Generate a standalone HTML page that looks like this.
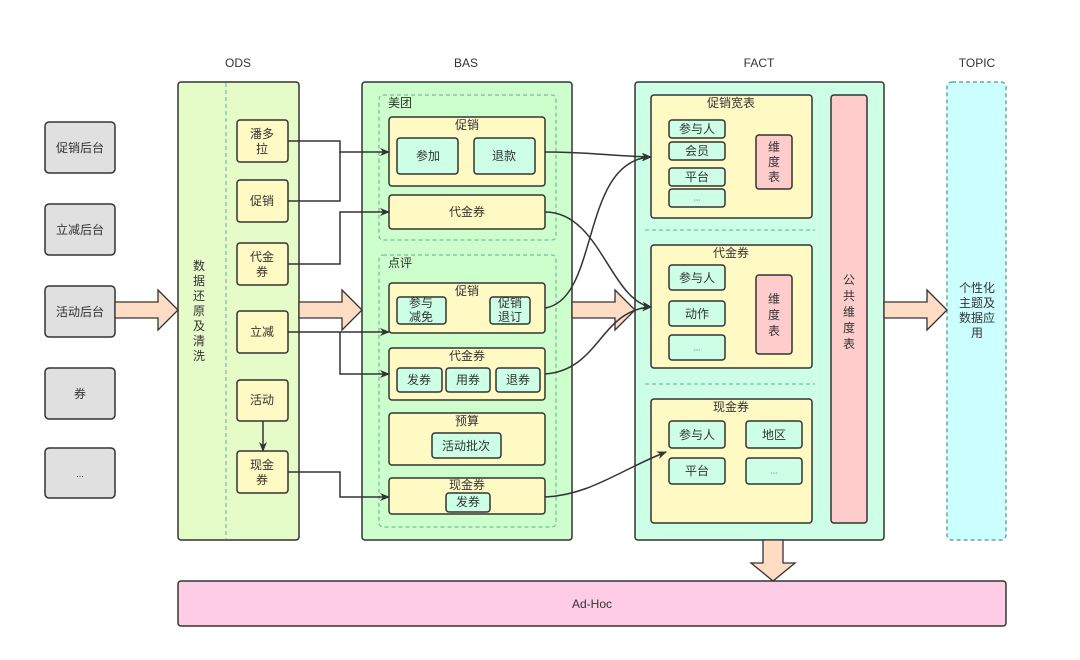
<!DOCTYPE html>
<html><head><meta charset="utf-8"><style>
html,body{margin:0;padding:0;background:#fff;}
svg text{font-family:"Liberation Sans","Noto Sans CJK SC",sans-serif;font-size:12px;fill:#333;text-anchor:middle;dominant-baseline:central;}
</style></head><body>
<svg width="1080" height="655" viewBox="0 0 1080 655" xmlns="http://www.w3.org/2000/svg">
<defs>
<marker id="ah" markerWidth="10" markerHeight="8" refX="9" refY="4" orient="auto" markerUnits="userSpaceOnUse"><path d="M0,0 L10,4 L0,8 L3,4 Z" fill="#333"/></marker>
</defs>
<g stroke="#333" stroke-width="1.5">
<rect x="45" y="122" width="70" height="51" rx="4" fill="#e0e0e0"/>
<rect x="45" y="204" width="70" height="51" rx="4" fill="#e0e0e0"/>
<rect x="45" y="286" width="70" height="51" rx="4" fill="#e0e0e0"/>
<rect x="45" y="368" width="70" height="51" rx="4" fill="#e0e0e0"/>
<rect x="45" y="448" width="70" height="50" rx="4" fill="#e0e0e0"/>
<rect x="178" y="82" width="121" height="458" rx="3" fill="#e6fcc8"/>
<rect x="362" y="82" width="210" height="458" rx="3" fill="#ccffcc"/>
<rect x="635" y="82" width="249" height="458" rx="3" fill="#ccffe6"/>
<rect x="947" y="82" width="59" height="458" rx="5" fill="#ccffff" stroke="#6a9" stroke-dasharray="4,3"/>
<rect x="178" y="581" width="828" height="45" rx="3" fill="#ffcce6"/>
</g>
<line x1="226" y1="83" x2="226" y2="539" stroke="#6a9" stroke-width="1" stroke-dasharray="4,3"/>
<g fill="#ffdcc4" stroke="#333" stroke-width="1.3">
<path d="M115,302 H158 V290 L178,310 L158,330 V318 H115 Z"/>
<path d="M299,302 H342 V290 L362,310 L342,330 V318 H299 Z"/>
<path d="M572,302 H615 V290 L635,310 L615,330 V318 H572 Z"/>
<path d="M884,302 H927 V290 L947,310 L927,330 V318 H884 Z"/>
<path d="M763,540 V563 H751 L773,581 L795,563 H783 V540 Z"/>
</g>
<g stroke="#333" stroke-width="1.5">
<rect x="237" y="120" width="51" height="42" rx="3" fill="#fff9c4"/>
<rect x="237" y="180" width="51" height="42" rx="3" fill="#fff9c4"/>
<rect x="237" y="243" width="51" height="42" rx="3" fill="#fff9c4"/>
<rect x="237" y="311" width="51" height="42" rx="3" fill="#fff9c4"/>
<rect x="237" y="380" width="51" height="41" rx="3" fill="#fff9c4"/>
<rect x="237" y="451" width="51" height="42" rx="3" fill="#fff9c4"/>
</g>
<g stroke="#6a9" stroke-width="1" stroke-dasharray="4,3" fill="none">
<rect x="379" y="95" width="177" height="145" rx="4"/>
<rect x="379" y="255" width="177" height="272" rx="4"/>
</g>
<g stroke="#333" stroke-width="1.5">
<rect x="389" y="117" width="156" height="69" rx="3" fill="#fff9c4"/>
<rect x="397" y="138" width="61" height="36" rx="3" fill="#ccffe6"/>
<rect x="474" y="138" width="61" height="36" rx="3" fill="#ccffe6"/>
<rect x="389" y="195" width="156" height="34" rx="3" fill="#fff9c4"/>
<rect x="389" y="283" width="156" height="50" rx="3" fill="#fff9c4"/>
<rect x="397" y="297" width="49" height="27" rx="3" fill="#ccffe6"/>
<rect x="490" y="297" width="40" height="27" rx="3" fill="#ccffe6"/>
<rect x="389" y="348" width="156" height="52" rx="3" fill="#fff9c4"/>
<rect x="397" y="368" width="45" height="24" rx="3" fill="#ccffe6"/>
<rect x="446" y="368" width="44" height="24" rx="3" fill="#ccffe6"/>
<rect x="496" y="368" width="44" height="24" rx="3" fill="#ccffe6"/>
<rect x="389" y="413" width="156" height="52" rx="3" fill="#fff9c4"/>
<rect x="432" y="433" width="69" height="25" rx="3" fill="#ccffe6"/>
<rect x="389" y="478" width="156" height="36" rx="3" fill="#fff9c4"/>
<rect x="446" y="493" width="44" height="19" rx="3" fill="#ccffe6"/>
<rect x="651" y="95" width="161" height="123" rx="3" fill="#fff9c4"/>
<rect x="669" y="120" width="56" height="18" rx="3" fill="#ccffe6"/>
<rect x="669" y="142" width="56" height="18" rx="3" fill="#ccffe6"/>
<rect x="669" y="168" width="56" height="18" rx="3" fill="#ccffe6"/>
<rect x="669" y="189" width="56" height="18" rx="3" fill="#ccffe6"/>
<rect x="756" y="135" width="36" height="54" rx="3" fill="#ffcccc"/>
<rect x="651" y="245" width="161" height="123" rx="3" fill="#fff9c4"/>
<rect x="669" y="265" width="56" height="25" rx="3" fill="#ccffe6"/>
<rect x="669" y="301" width="56" height="25" rx="3" fill="#ccffe6"/>
<rect x="669" y="335" width="56" height="25" rx="3" fill="#ccffe6"/>
<rect x="756" y="275" width="36" height="79" rx="3" fill="#ffcccc"/>
<rect x="651" y="399" width="161" height="124" rx="3" fill="#fff9c4"/>
<rect x="669" y="421" width="56" height="27" rx="3" fill="#ccffe6"/>
<rect x="746" y="421" width="56" height="27" rx="3" fill="#ccffe6"/>
<rect x="669" y="458" width="56" height="26" rx="3" fill="#ccffe6"/>
<rect x="746" y="458" width="56" height="26" rx="3" fill="#ccffe6"/>
<rect x="831" y="95" width="36" height="428" rx="3" fill="#ffcccc"/>
</g>
<g stroke="#6a9" stroke-width="1" stroke-dasharray="4,3">
<line x1="645" y1="230" x2="815" y2="230"/>
<line x1="645" y1="384" x2="815" y2="384"/>
</g>
<g stroke="#333" stroke-width="1.5" fill="none">
<path d="M288,141 H340 V152 H389" marker-end="url(#ah)"/>
<path d="M288,201 H340 V152"/>
<path d="M288,264 H340 V212 H389" marker-end="url(#ah)"/>
<path d="M288,332 H389" marker-end="url(#ah)"/>
<path d="M340,332 V374 H389" marker-end="url(#ah)"/>
<path d="M288,472 H340 V497 H389" marker-end="url(#ah)"/>
<path d="M263,421 V451" marker-end="url(#ah)"/>
<path d="M545,152 C590,152 610,156 651,157" marker-end="url(#ah)"/>
<path d="M545,212 C600,212 610,300 651,307" marker-end="url(#ah)"/>
<path d="M545,308 C600,300 580,160 651,157" marker-end="url(#ah)"/>
<path d="M545,374 C600,370 600,310 651,307" marker-end="url(#ah)"/>
<path d="M545,497 C590,495 620,470 666,452" marker-end="url(#ah)"/>
</g>
<text x="238" y="63">ODS</text>
<text x="466" y="63">BAS</text>
<text x="759" y="63">FACT</text>
<text x="977" y="63">TOPIC</text>
<text x="80" y="148">促销后台</text>
<text x="80" y="230">立减后台</text>
<text x="80" y="312">活动后台</text>
<text x="80" y="394">券</text>
<text x="80" y="474" style="font-size:9px">...</text>
<g>
<text x="199" y="266">数</text><text x="199" y="281">据</text><text x="199" y="296">还</text><text x="199" y="311">原</text><text x="199" y="326">及</text><text x="199" y="341">清</text><text x="199" y="356">洗</text>
</g>
<text x="262" y="134">潘多</text><text x="262" y="149">拉</text>
<text x="262" y="201">促销</text>
<text x="262" y="257">代金</text><text x="262" y="272">券</text>
<text x="262" y="332">立减</text>
<text x="262" y="400">活动</text>
<text x="262" y="465">现金</text><text x="262" y="480">券</text>
<text x="388" y="103" style="text-anchor:start">美团</text>
<text x="467" y="125">促销</text>
<text x="428" y="156">参加</text>
<text x="504" y="156">退款</text>
<text x="467" y="212">代金券</text>
<text x="388" y="263" style="text-anchor:start">点评</text>
<text x="467" y="291">促销</text>
<text x="421" y="303">参与</text><text x="421" y="317">减免</text>
<text x="510" y="303">促销</text><text x="510" y="317">退订</text>
<text x="467" y="356">代金券</text>
<text x="419" y="380">发券</text>
<text x="468" y="380">用券</text>
<text x="518" y="380">退券</text>
<text x="467" y="421">预算</text>
<text x="466" y="446">活动批次</text>
<text x="467" y="485">现金券</text>
<text x="468" y="502">发券</text>
<text x="731" y="103">促销宽表</text>
<text x="697" y="129">参与人</text>
<text x="697" y="151">会员</text>
<text x="697" y="177">平台</text>
<text x="697" y="198" style="font-size:8px">...</text>
<text x="774" y="147">维</text><text x="774" y="162">度</text><text x="774" y="177">表</text>
<text x="731" y="253">代金券</text>
<text x="697" y="278">参与人</text>
<text x="697" y="314">动作</text>
<text x="697" y="348" style="font-size:8px">...</text>
<text x="774" y="299">维</text><text x="774" y="315">度</text><text x="774" y="331">表</text>
<text x="731" y="407">现金券</text>
<text x="697" y="435">参与人</text>
<text x="774" y="435">地区</text>
<text x="697" y="471">平台</text>
<text x="774" y="471" style="font-size:8px">...</text>
<text x="849" y="280">公</text><text x="849" y="296">共</text><text x="849" y="312">维</text><text x="849" y="328">度</text><text x="849" y="344">表</text>
<text x="977" y="288">个性化</text><text x="977" y="303">主题及</text><text x="977" y="318">数据应</text><text x="977" y="333">用</text>
<text x="592" y="604">Ad-Hoc</text>
</svg>
</body></html>
